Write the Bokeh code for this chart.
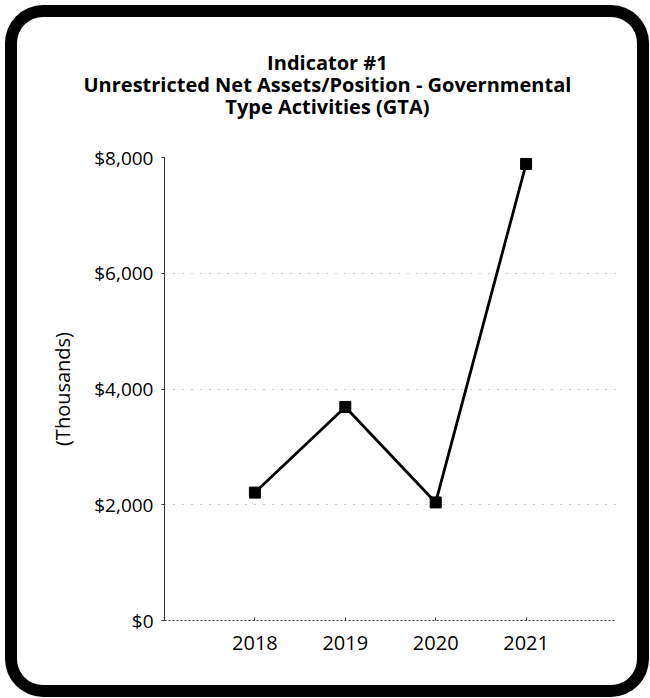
from bokeh.plotting import figure
from bokeh.models import FixedTicker, Title, NumeralTickFormatter
from bokeh.embed import file_html
from bokeh.resources import INLINE

years = [2018, 2019, 2020, 2021]
values = [2210, 3690, 2040, 7890]  # thousands of dollars
y_ticks = [0, 2000, 4000, 6000, 8000]
title_lines = ["Indicator #1",
               "Unrestricted Net Assets/Position - Governmental",
               "Type Activities (GTA)"]
y_label = "(Thousands)"

FONT = "Open Sans"

p = figure(width=644, height=692, output_backend="svg", toolbar_location=None,
           x_range=(2017, 2022), y_range=(0, 8000),
           min_border_left=159, min_border_right=33, min_border_top=152, min_border_bottom=77,
           styles={"box-shadow": "inset 0 0 0 12px black", "border-radius": "38px",
                   "background": "white", "margin-left": "5px", "margin-top": "5px"})
p.border_fill_color = None
p.background_fill_color = None
p.outline_line_color = None

title_kw = dict(text="\n".join(title_lines), align="left", text_font=FONT,
                text_font_size="20px", text_font_style="bold", text_color="black",
                text_line_height=0.82, standoff=74, offset=-81)
if "text_align" in Title.properties():
    title_kw["text_align"] = "center"
p.title = Title(**title_kw)

p.line(years, values, line_color="black", line_width=2.8)
p.scatter(years, values, marker="square", size=11, fill_color="black", line_color="black")

# axes
p.xaxis.ticker = FixedTicker(ticks=years)
p.xaxis.major_label_text_font = FONT
p.xaxis.major_label_text_font_size = "20px"
p.xaxis.major_label_text_color = "black"
p.xaxis.major_label_standoff = 15
p.xaxis.axis_line_color = "#333333"
p.xaxis.axis_line_dash = "2 2"
p.xaxis.major_tick_line_color = "#333333"
p.xaxis.major_tick_in = 3
p.xaxis.major_tick_out = 0
p.xaxis.minor_tick_line_color = None

p.yaxis.ticker = FixedTicker(ticks=y_ticks)
p.yaxis.formatter = NumeralTickFormatter(format="$0,0")
p.yaxis.major_label_text_font = FONT
p.yaxis.major_label_text_font_size = "19px"
p.yaxis.major_label_text_color = "black"
p.yaxis.major_label_standoff = 8
p.yaxis.axis_line_color = "#333333"
p.yaxis.major_tick_line_color = "#333333"
p.yaxis.major_tick_in = 0
p.yaxis.major_tick_out = 3
p.yaxis.minor_tick_line_color = None
p.yaxis.axis_label = y_label
p.yaxis.axis_label_text_font = FONT
p.yaxis.axis_label_text_font_size = "20px"
p.yaxis.axis_label_text_font_style = "normal"
p.yaxis.axis_label_text_color = "black"
p.yaxis.axis_label_standoff = 15

p.xgrid.grid_line_color = None
p.ygrid.grid_line_color = "#999999"
p.ygrid.grid_line_dash = "1 8"
p.ygrid.grid_line_width = 1

open("out.html", "w").write(file_html(p, INLINE))
